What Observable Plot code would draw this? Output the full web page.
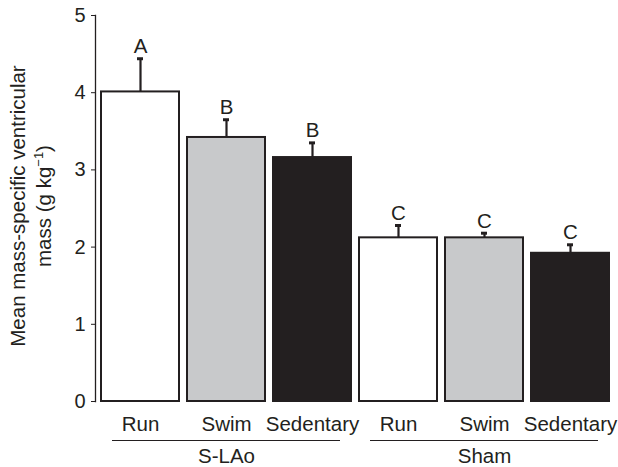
<!DOCTYPE html>
<html><head><meta charset="utf-8">
<script src="https://cdn.jsdelivr.net/npm/d3@7"></script>
<script src="https://cdn.jsdelivr.net/npm/@observablehq/plot@0.6"></script>
<style>body{margin:0;background:#fff}</style>
</head><body><div id="chart"></div>
<script>
const groups = ["S-LAo","S-LAo","S-LAo","Sham","Sham","Sham"];
const treatments = ["Run","Swim","Sedentary","Run","Swim","Sedentary"];
const means = [4.01, 3.42, 3.16, 2.12, 2.12, 1.92];
const errors = [0.43, 0.23, 0.19, 0.16, 0.06, 0.11];
const letters = ["A","B","B","C","C","C"];
const fills = ["#ffffff","#c8c9cb","#231f20","#ffffff","#c8c9cb","#231f20"];
const yTicks = [0,1,2,3,4,5];
const groupNames = ["S-LAo","Sham"];
const yLabelLine1 = "Mean mass-specific ventricular";
const yLabelLine2 = "mass (g kg";
const yLabelSup = "\u22121";

const ink = "#231f20";
const rows = treatments.map((t, i) => ({
  key: groups[i] + " " + t, group: groups[i], treatment: t,
  mean: means[i], se: errors[i], letter: letters[i], fill: fills[i]
}));
const keys = rows.map(d => d.key);
const treatmentOf = Object.fromEntries(rows.map(d => [d.key, d.treatment]));
const groupRows = groupNames.map(g => {
  const ks = rows.filter(d => d.group === g).map(d => d.key);
  return {name: g, first: ks[0], mid: ks[1], last: ks[ks.length - 1]};
});

const plot = Plot.plot({
  width: 618, height: 467,
  marginTop: 15, marginBottom: 66, marginLeft: 95, marginRight: 3,
  style: {fontFamily: "'Liberation Sans', Arial, Helvetica, sans-serif", fontSize: "20px", color: ink, background: "#fff", overflow: "visible"},
  x: {domain: keys, paddingInner: 0.09, paddingOuter: 0.06, label: null},
  y: {domain: [0, 5], label: null},
  color: {type: "identity"},
  marks: [
    Plot.frame({anchor: "left", stroke: ink, strokeWidth: 1.3}),
    Plot.axisY({ticks: yTicks, tickFormat: "d", tickSize: 4, tickPadding: 6, label: null, fontSize: 20, stroke: ink}),
    Plot.axisX({tickSize: 0, tickPadding: 15, tickFormat: k => treatmentOf[k], label: null, fontSize: 20.5}),
    Plot.ruleX(rows, {x: "key", y1: "mean", y2: d => d.mean + d.se, stroke: ink, strokeWidth: 2.2}),
    Plot.tickY(rows, {x: "key", y: d => d.mean + d.se, insetLeft: 36, insetRight: 36, stroke: ink, strokeWidth: 3}),
    Plot.barY(rows, {x: "key", y: "mean", fill: "fill", stroke: ink, strokeWidth: 2}),
    Plot.text(rows, {x: "key", y: d => d.mean + d.se, text: "letter", dy: -12, fontSize: 20.5, fill: ink}),
    Plot.ruleY(groupRows, {x1: "first", x2: "last", y: 0, dy: 39, insetLeft: 11, insetRight: 11, stroke: ink, strokeWidth: 1.2}),
    Plot.text(groupRows, {x: "mid", y: 0, text: "name", dy: 55, fontSize: 20.5, fill: ink})
  ]
});

const svg = d3.select(plot);
const g = svg.append("g").attr("font-size", 20.5).attr("fill", ink).attr("text-anchor", "middle");
g.append("text").attr("transform", "translate(25,206) rotate(-90)").text(yLabelLine1);
const t2 = g.append("text").attr("transform", "translate(51,206) rotate(-90)");
t2.append("tspan").text(yLabelLine2);
t2.append("tspan").attr("dy", -8).attr("font-size", 13).text(yLabelSup);
t2.append("tspan").attr("dy", 8).text(")");

document.getElementById("chart").appendChild(plot);
</script>
</body></html>
